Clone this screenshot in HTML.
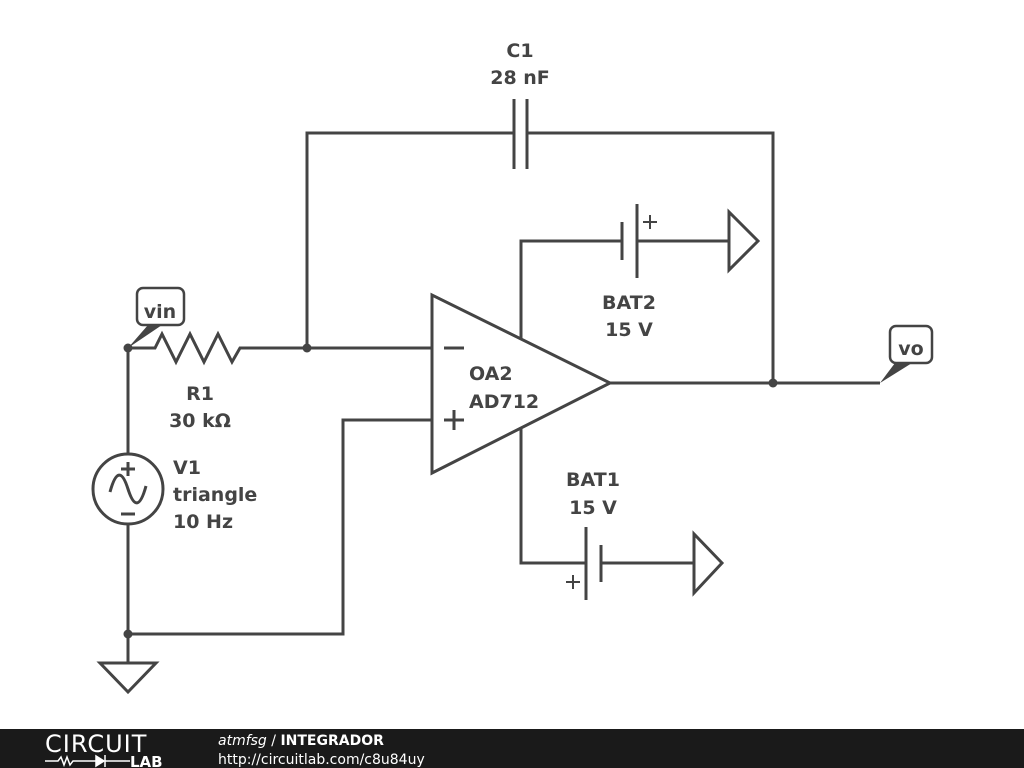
<!DOCTYPE html>
<html><head><meta charset="utf-8"><style>
html,body{margin:0;padding:0;background:#fff;width:1024px;height:768px;overflow:hidden}
svg{display:block}
text{font-family:"DejaVu Sans","Liberation Sans",sans-serif;font-weight:bold;fill:#444;font-size:19px}
</style></head><body>
<svg width="1024" height="768" viewBox="0 0 1024 768" xmlns="http://www.w3.org/2000/svg">
<g stroke="#444" stroke-width="3" fill="none" stroke-linejoin="miter">
<!-- capacitor loop -->
<polyline points="307,348 307,133 514,133"/>
<polyline points="527,133 773,133 773,383"/>
<line x1="514" y1="99" x2="514" y2="169"/>
<line x1="527" y1="99" x2="527" y2="169"/>
<!-- resistor and input -->
<polyline points="128,348 155,348 162,334 176,362 190,334 204,362 218,334 232,362 240,348 432,348"/>
<!-- opamp -->
<polygon points="432,295 432,473 610,383"/>
<line x1="444" y1="348" x2="464" y2="348"/>
<line x1="444" y1="420" x2="464" y2="420"/>
<line x1="454" y1="410" x2="454" y2="430"/>
<line x1="610" y1="383" x2="880" y2="383"/>
<!-- plus input -->
<polyline points="432,420 343,420 343,634 128,634"/>
<!-- V1 wires -->
<line x1="128" y1="348" x2="128" y2="454"/>
<line x1="128" y1="524" x2="128" y2="663"/>
<circle cx="128" cy="489" r="35"/>
<path d="M110,492 C116,470 122,470 128,489 C134,508 140,508 146,486"/>
<line x1="121" y1="469" x2="135" y2="469"/><line x1="128" y1="462" x2="128" y2="476"/>
<line x1="121" y1="514" x2="135" y2="514"/>
<polygon points="100,663 156,663 128,692"/>
<!-- BAT2 -->
<polyline points="521,339 521,241 622,241"/>
<line x1="622" y1="222" x2="622" y2="260"/>
<line x1="637" y1="204" x2="637" y2="278"/>
<line x1="637" y1="241" x2="729" y2="241"/>
<polygon points="729,212 729,270 758,241"/>
<line x1="643" y1="222" x2="657" y2="222" stroke-width="2"/><line x1="650" y1="215" x2="650" y2="229" stroke-width="2"/>
<!-- BAT1 -->
<polyline points="521,427 521,563 586,563"/>
<line x1="586" y1="527" x2="586" y2="600"/>
<line x1="601" y1="545" x2="601" y2="582"/>
<line x1="601" y1="563" x2="694" y2="563"/>
<polygon points="694,534 694,593 722,563"/>
<line x1="566" y1="582" x2="580" y2="582" stroke-width="2"/><line x1="573" y1="575" x2="573" y2="589" stroke-width="2"/>
<!-- labels boxes -->
<rect x="137" y="288" width="47" height="37" rx="6" stroke-width="2.5" fill="#fff"/>
<rect x="890" y="326" width="42" height="37" rx="6" stroke-width="2.5" fill="#fff"/>
</g>
<g fill="#444">
<circle cx="128" cy="348" r="4.5"/><circle cx="307" cy="348" r="4.5"/>
<circle cx="773" cy="383" r="4.5"/><circle cx="128" cy="634" r="4.5"/>
<polygon points="128,348 148,325 162,325"/>
<polygon points="880,383 895,363 912,363"/>
</g>
<text x="160" y="318" text-anchor="middle">vin</text>
<text x="911" y="355" text-anchor="middle">vo</text>
<text x="520" y="57" text-anchor="middle">C1</text>
<text x="520" y="84" text-anchor="middle">28 nF</text>
<text x="200" y="400" text-anchor="middle">R1</text>
<text x="200" y="427" text-anchor="middle">30 kΩ</text>
<text x="173" y="474">V1</text>
<text x="173" y="501">triangle</text>
<text x="173" y="528">10 Hz</text>
<text x="469" y="380">OA2</text>
<text x="469" y="408">AD712</text>
<text x="629" y="309" text-anchor="middle">BAT2</text>
<text x="629" y="336" text-anchor="middle">15 V</text>
<text x="593" y="486" text-anchor="middle">BAT1</text>
<text x="593" y="514" text-anchor="middle">15 V</text>
<rect x="0" y="729" width="1024" height="39" fill="#1a1a1a"/>
<text x="45" y="752" style="font-weight:normal;font-size:24px;fill:#fff;letter-spacing:1px">CIRCUIT</text>
<g stroke="#fff" stroke-width="1.5" fill="none">
<polyline points="45,761 58,761 61,757 64,765 67,757 70,765 73,761 96,761"/>
<polygon points="96,756 96,766 104,761" fill="#fff"/><line x1="105" y1="755" x2="105" y2="767"/>
<line x1="105" y1="761" x2="130" y2="761"/>
</g>
<text x="130" y="767" style="font-size:15px;fill:#fff">LAB</text>
<text x="218" y="745" style="font-size:14px;fill:#fff"><tspan style="font-style:italic;font-weight:normal">atmfsg</tspan><tspan style="font-weight:normal"> / </tspan>INTEGRADOR</text>
<text x="218" y="764" style="font-size:14px;font-weight:normal;fill:#fff">http://circuitlab.com/c8u84uy</text>
</svg>
</body></html>
